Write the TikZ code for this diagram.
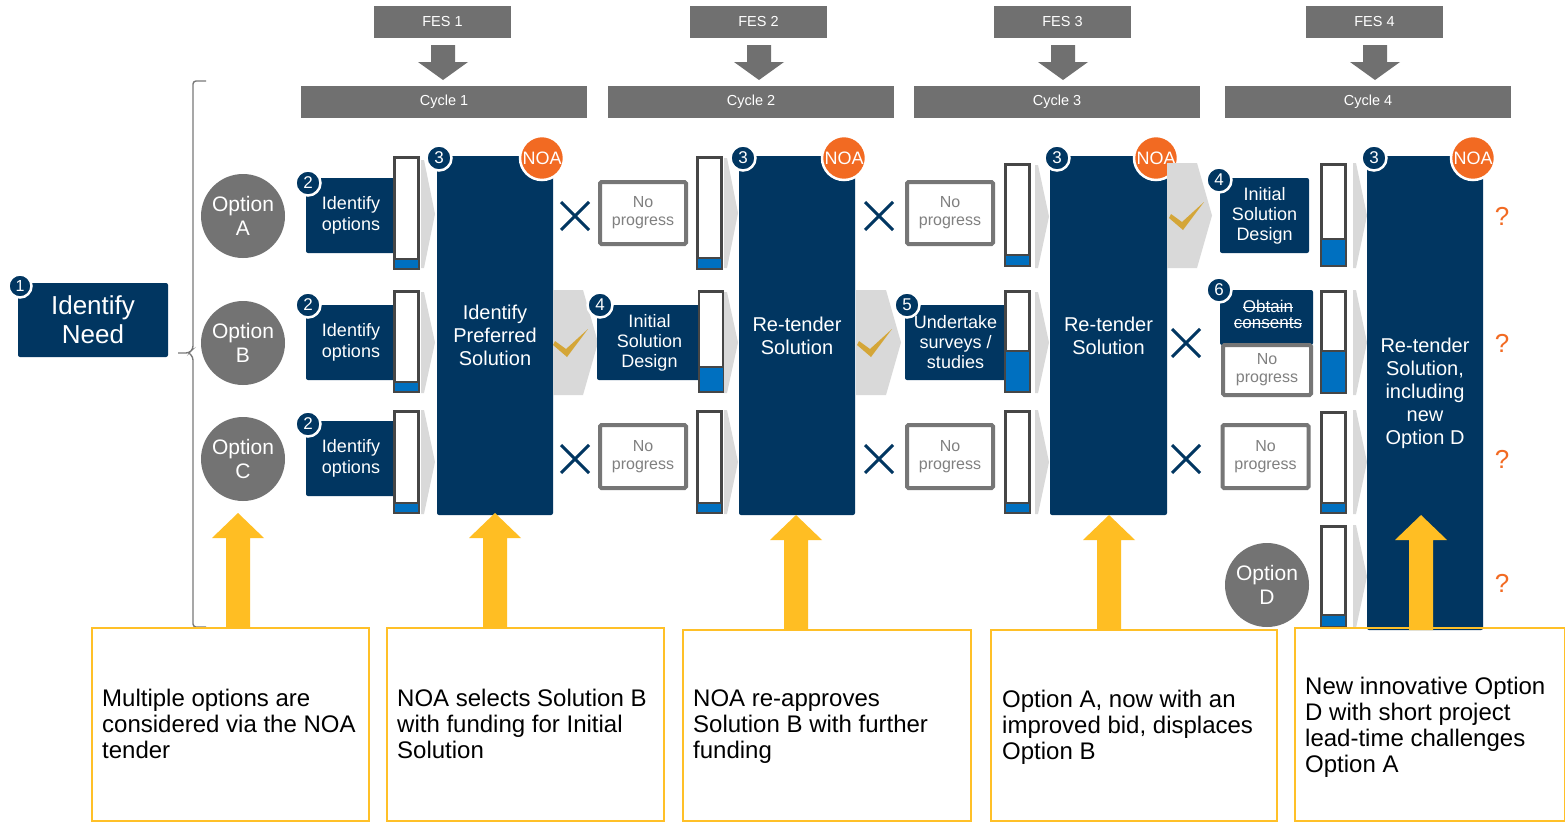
\documentclass[tikz,border=0pt]{standalone}
\usepackage{fontspec}
\setmainfont{Liberation Sans}
\usetikzlibrary{calc}

\definecolor{navy}{RGB}{1,54,97}
\definecolor{hdrgray}{RGB}{112,112,112}
\definecolor{optgray}{RGB}{115,115,115}
\definecolor{barblue}{RGB}{0,112,192}
\definecolor{chevgray}{RGB}{217,217,217}
\definecolor{checkgold}{RGB}{212,166,56}
\definecolor{noaorange}{RGB}{242,106,34}
\definecolor{arrowyel}{RGB}{255,190,35}
\definecolor{boxyel}{RGB}{255,192,40}
\definecolor{npgray}{RGB}{118,118,118}
\definecolor{nptext}{RGB}{128,128,128}
\definecolor{bargray}{RGB}{70,70,70}
\definecolor{bracketgray}{RGB}{120,120,120}

% progress bar: name, x centre, top, bottom, filled height
\newcommand\progbar[5]{%
  \node[barbox, minimum height={#4-#3}] (#1) at (#2,{(#3+#4)/2}) {};
  \fill[barblue] (#1.south west) rectangle ([yshift=#5 pt]#1.south east);
  \draw[bargray, line width=1.6pt] ([yshift=#5 pt]#1.south west) -- ([yshift=#5 pt]#1.south east);
  \draw[bargray, line width=1.6pt] (#1.south west) rectangle (#1.north east);
}
% thin grey chevron: left x, top, bottom
\newcommand\thinchev[3]{\fill[chevgray] (#1,#2) -- (#1+3,#2) -- (#1+14,{(#2+#3)/2}) -- (#1+3,#3) -- (#1,#3) -- cycle;}
% wide grey chevron: left x, top, bottom
\newcommand\bigchev[3]{\fill[chevgray] (#1,#2) -- (#1+30,#2) -- (#1+45,{(#2+#3)/2}) -- (#1+30,#3) -- (#1,#3) -- cycle;}
% gold tick
\newcommand\chkmark[2]{\fill[checkgold, shift={(#1,#2)}] (-16,-2) -- (-5,6) -- (17,-14) -- (-4,14) -- (-18,2) -- cycle;}
% navy cross
\newcommand\xcross[2]{\draw[xmark] (#1-14,#2-14) -- (#1+14,#2+14) (#1-14,#2+14) -- (#1+14,#2-14);}
% yellow up arrow: x centre, tip, base
\newcommand\yelarrow[3]{\fill[arrowyel] (#1-12,#3) -- (#1-12,#2+25) -- (#1-26,#2+25) -- (#1,#2) -- (#1+26,#2+25) -- (#1+12,#2+25) -- (#1+12,#3) -- cycle;}
% grey down arrow under each FES label
\newcommand\fesarrow[1]{\fill[hdrgray] (#1-12,45) -- (#1+12,45) -- (#1+12,62) -- (#1+25,62) -- (#1,80) -- (#1-25,62) -- (#1-12,62) -- cycle;}

\begin{document}
\begin{tikzpicture}[x=1pt,y=-1pt,
  hdr/.style={fill=hdrgray, text=white, inner sep=0, font=\fontsize{14.5}{16}\selectfont},
  navybox/.style={fill=navy, text=white, rounded corners=2pt, align=center, inner sep=0},
  badge/.style={circle, fill=navy, draw=white, line width=2.5pt, text=white, minimum size=25pt, inner sep=0, font=\fontsize{17}{17}\selectfont},
  noa/.style={circle, fill=noaorange, draw=white, line width=2.5pt, text=white, minimum size=44pt, inner sep=0, font=\fontsize{18}{18}\selectfont},
  option/.style={circle, fill=optgray, text=white, minimum size=84pt, inner sep=0, align=center, font=\fontsize{21}{24}\selectfont},
  nprog/.style={draw=npgray, line width=4pt, fill=white, rounded corners=1.5pt, text=nptext, align=center, inner sep=0, font=\fontsize{16}{18}\selectfont},
  barbox/.style={draw=bargray, line width=1.6pt, fill=white, minimum width=23pt, inner sep=0},
  xmark/.style={draw=navy, line width=3pt},
  note/.style={draw=boxyel, line width=1.8pt, inner sep=0},
  notetext/.style={anchor=west, align=left, inner sep=0, font=\fontsize{24}{26}\selectfont},
  qmark/.style={text=noaorange, inner sep=0, font=\fontsize{26}{26}\selectfont},
  small/.style={font=\fontsize{18}{21}\selectfont},
  smaller/.style={font=\fontsize{18}{20}\selectfont},
  big/.style={font=\fontsize{20}{23}\selectfont},
  struck/.style={text=white, inner sep=0, anchor=base, font=\fontsize{17}{17}\selectfont}
]
\useasboundingbox (0,0) rectangle (1565,822);
\fill[white] (0,0) rectangle (1565,822);

% ---- header: funding stages and cycles
\node[hdr, minimum width=137pt, minimum height=32pt] (fes1) at (442.5,22) {FES 1};
\node[hdr, minimum width=137pt, minimum height=32pt] (fes2) at (758.5,22) {FES 2};
\node[hdr, minimum width=137pt, minimum height=32pt] (fes3) at (1062.5,22) {FES 3};
\node[hdr, minimum width=137pt, minimum height=32pt] (fes4) at (1374.5,22) {FES 4};
\fesarrow{443}
\fesarrow{759}
\fesarrow{1063}
\fesarrow{1375}
\node[hdr, minimum width=286pt, minimum height=32pt] (cyc1) at (444,102) {Cycle 1};
\node[hdr, minimum width=286pt, minimum height=32pt] (cyc2) at (751,102) {Cycle 2};
\node[hdr, minimum width=286pt, minimum height=32pt] (cyc3) at (1057,102) {Cycle 3};
\node[hdr, minimum width=286pt, minimum height=32pt] (cyc4) at (1368,102) {Cycle 4};

% ---- need and bracket
\node[navybox, minimum width=150pt, minimum height=74pt, font=\fontsize{26}{29}\selectfont] (need) at (93,320) {Identify\\Need};
\node[badge, minimum size=23pt, font=\fontsize{16}{16}\selectfont] (bg1) at (20,286) {1};
\draw[bracketgray, line width=1.4pt, rounded corners=3pt] (206,81) -- (193,81) -- (193,349) -- (189,353) -- (178,353);
\draw[bracketgray, line width=1.4pt, rounded corners=3pt] (189,353) -- (193,357) -- (193,627) -- (206,627);

% ---- options
\node[option] (optA) at (243,216) {Option\\A};
\node[option] (optB) at (243,343) {Option\\B};
\node[option] (optC) at (243,459) {Option\\C};
\node[option] (optD) at (1267,585) {Option\\D};

% ---- cycle 1
\node[navybox, small, minimum width=90pt, minimum height=75pt] (ioA) at (351,215.5) {Identify\\options};
\node[navybox, small, minimum width=90pt, minimum height=75pt] (ioB) at (351,342.5) {Identify\\options};
\node[navybox, small, minimum width=90pt, minimum height=75pt] (ioC) at (351,458.5) {Identify\\options};
\progbar{p1a}{406.5}{158}{268}{10}
\progbar{p1b}{406.5}{292}{391}{10}
\progbar{p1c}{406.5}{412}{512}{10}
\thinchev{421}{160}{268}
\thinchev{421}{292}{393}
\thinchev{421}{410}{514}
\node[navybox, big, minimum width=116pt, minimum height=359pt] (c1) at (495,335.5) {Identify\\Preferred\\Solution};
\node[badge] (bg2a) at (308,183) {2};
\node[badge] (bg2b) at (308,305) {2};
\node[badge] (bg2c) at (308,424) {2};
\node[badge] (bg3a) at (439,158) {3};
\node[noa] (noa1) at (542,158) {NOA};

% ---- cycle 2
\xcross{575}{216}
\xcross{575}{459}
\bigchev{553}{290}{395}
\chkmark{571}{343}
\node[nprog, minimum width=86pt, minimum height=62pt] (np2a) at (643,213) {No\\progress};
\node[nprog, minimum width=86pt, minimum height=63pt] (np2c) at (643,456.5) {No\\progress};
\node[navybox, smaller, minimum width=105pt, minimum height=75pt] (isd2) at (649.5,342.5) {Initial\\Solution\\Design};
\progbar{p2a}{709.5}{158}{268}{11}
\progbar{p2b}{711}{292}{391}{25}
\progbar{p2c}{709.5}{412}{512}{10}
\thinchev{724}{158}{268}
\thinchev{724}{292}{393}
\thinchev{724}{410}{514}
\node[navybox, big, minimum width=116pt, minimum height=359pt] (c2) at (797,335.5) {Re-tender\\Solution};
\node[badge] (bg4b) at (600,305) {4};
\node[badge] (bg3b) at (743,158) {3};
\node[noa] (noa2) at (844,158) {NOA};

% ---- cycle 3
\xcross{879}{216}
\xcross{879}{459}
\bigchev{856}{290}{395}
\chkmark{875}{343}
\node[nprog, minimum width=86pt, minimum height=62pt] (np3a) at (950,213) {No\\progress};
\node[nprog, minimum width=86pt, minimum height=63pt] (np3c) at (950,456.5) {No\\progress};
\node[navybox, smaller, minimum width=101pt, minimum height=75pt] (uss3) at (955.5,342.5) {Undertake\\surveys /\\studies};
\progbar{p3a}{1017.5}{165}{265}{11}
\progbar{p3b}{1017.5}{292}{391}{41}
\progbar{p3c}{1017.5}{412}{512}{10}
\thinchev{1035}{165}{268}
\thinchev{1035}{292}{393}
\thinchev{1035}{410}{514}
\node[navybox, big, minimum width=117pt, minimum height=359pt] (c3) at (1108.5,335.5) {Re-tender\\Solution};
\node[badge] (bg5b) at (907,305) {5};
\node[badge] (bg3c) at (1057,158) {3};
\node[noa] (noa3) at (1156,158) {NOA};

% ---- cycle 4
\bigchev{1167}{163}{268}
\chkmark{1187}{216}
\xcross{1186}{343}
\xcross{1186}{459}
\node[navybox, smaller, minimum width=89pt, minimum height=75pt] (isd4) at (1264.5,215.5) {Initial\\Solution\\Design};
\node[navybox, minimum width=93pt, minimum height=55pt] (oc4) at (1266.5,317.5) {};
\node[struck] (ob1) at (1268,312) {Obtain};
\node[struck] (ob2) at (1268,328) {consents};
\draw[white, line width=1pt] ([yshift=4.5pt]ob1.base west) -- ([yshift=4.5pt]ob1.base east);
\draw[white, line width=1pt] ([yshift=4.5pt]ob2.base west) -- ([yshift=4.5pt]ob2.base east);
\node[nprog, minimum width=88pt, minimum height=50pt] (np4b) at (1267,370) {No\\progress};
\node[nprog, minimum width=86pt, minimum height=63pt] (np4c) at (1265.5,456.5) {No\\progress};
\progbar{p4a}{1333.5}{165}{265}{27}
\progbar{p4b}{1333.5}{292}{392}{42}
\progbar{p4c}{1333.5}{413}{512}{10}
\progbar{p4d}{1333.5}{527}{626}{12}
\thinchev{1353}{163}{268}
\thinchev{1353}{290}{395}
\thinchev{1353}{410}{514}
\thinchev{1353}{525}{628}
\node[navybox, big, minimum width=116pt, minimum height=474pt] (c4) at (1425,393) {Re-tender\\Solution,\\including\\new\\Option D};
\node[badge] (bg4a) at (1219,180) {4};
\node[badge] (bg6b) at (1219,290) {6};
\node[badge] (bg3d) at (1374,158) {3};
\node[noa] (noa4) at (1473,158) {NOA};
\node[qmark] (q1) at (1502,216) {?};
\node[qmark] (q2) at (1502,343) {?};
\node[qmark] (q3) at (1502,459) {?};
\node[qmark] (q4) at (1502,583) {?};

% ---- notes and their arrows
\node[note, minimum width=277pt, minimum height=193pt] (n1) at (230.5,724.5) {};
\node[note, minimum width=277pt, minimum height=193pt] (n2) at (525.5,724.5) {};
\node[note, minimum width=288pt, minimum height=191pt] (n3) at (827,725.5) {};
\node[note, minimum width=286pt, minimum height=191pt] (n4) at (1134,725.5) {};
\node[note, minimum width=270pt, minimum height=193pt] (n5) at (1430,724.5) {};
\yelarrow{238}{513}{628}
\yelarrow{495}{513}{628}
\yelarrow{796}{515}{630}
\yelarrow{1109}{515}{630}
\yelarrow{1421}{515}{630}
\node[notetext] (t1) at (102,724) {Multiple options are\\considered via the NOA\\tender};
\node[notetext] (t2) at (397,724) {NOA selects Solution B\\with funding for Initial\\Solution};
\node[notetext] (t3) at (693,727) {NOA re-approves\\Solution B with further\\funding};
\node[notetext] (t4) at (1002,727) {Option A, now with an\\improved bid, displaces\\Option B};
\node[notetext] (t5) at (1305,727) {New innovative Option\\D with short project\\lead-time challenges\\Option A};
\end{tikzpicture}
\end{document}
